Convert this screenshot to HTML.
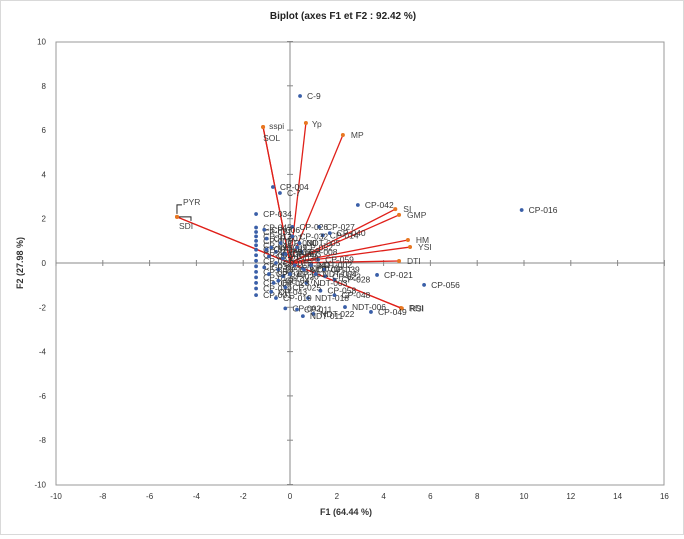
<!DOCTYPE html>
<html><head><meta charset="utf-8"><style>
body{margin:0;background:#fff;font-family:"Liberation Sans",sans-serif}
#wrap{position:relative;width:682px;height:533px;border:1px solid #d9d9d9;background:#fff}
svg text{font-family:"Liberation Sans",sans-serif}
</style></head><body>
<div id="wrap">
<svg id="chart" width="682" height="533" xmlns="http://www.w3.org/2000/svg">
<text x="342" y="18" text-anchor="middle" font-size="10" font-weight="bold" fill="#222">Biplot (axes F1 et F2 : 92.42 %)</text>
<rect x="55" y="41" width="608" height="443" fill="none" stroke="#999" stroke-width="1"/>
<text x="345" y="514" text-anchor="middle" font-size="9" font-weight="bold" fill="#333">F1 (64.44 %)</text>
<text transform="translate(22,262) rotate(-90)" text-anchor="middle" font-size="9" font-weight="bold" fill="#333">F2 (27.98 %)</text>
<g id="axes"></g><g id="vars"></g><g id="obs"></g>
</svg></div>
<script>
const xTicks=[-10,-8,-6,-4,-2,0,2,4,6,8,10,12,14,16];
const yTicks=[-10,-8,-6,-4,-2,0,2,4,6,8,10];
const varNames=["sspi","SOL","Yp","MP","PYR","SDI","SI","GMP","HM","YSI","DTI","RDI","RSI"];
const varX=[-1.15,-1.15,0.68,2.26,-4.83,-4.83,4.5,4.66,5.04,5.13,4.66,4.74,4.78];
const varY=[6.14,6.14,6.32,5.78,2.08,2.08,2.43,2.17,1.04,0.72,0.09,-2.03,-2.05];
const obsNames=["C-9","CP-004","C-7","CP-034","CP-042","CP-016","CP-021","CP-056","CP-049","NDT-006","NDT-018","CP-019","CP-048","NDT-022","NDT-011","CP-027","CP-026","CP-014","CP-040","CP-008","CP-059","CP-070","CP-028","CP-039","CP-002","CP-011","CP-067","CP-022","NDT-003","CP-058",
"CP-045","CP-031","CP-013","CP-005","CP-044","CP-017","CP-061","CP-024","CP-036","CP-050","CP-012","CP-064","CP-029","CP-001",
"CP-006","CP-007","CP-009","CP-010","CP-015","CP-018","CP-020","CP-023","CP-025","CP-030","CP-032","CP-033","CP-035","CP-037","CP-038","CP-041","CP-043","CP-046","CP-047","CP-051","CP-052","CP-053","NDT-001","NDT-002","NDT-004","NDT-005"];
const obsX=[0.43,-0.73,-0.43,-1.45,2.9,9.9,3.72,5.73,3.46,2.35,0.77,-0.6,1.9,1.0,0.55,1.24,0.1,1.4,1.7,0.5,1.2,0.55,1.9,1.45,-0.2,0.3,-0.3,1.5,0.7,1.3,
-1.45,-1.45,-1.45,-1.45,-1.45,-1.45,-1.45,-1.45,-1.45,-1.45,-1.45,-1.45,-1.45,-1.45,
-1.1,-1.0,-0.8,-0.9,-0.6,-0.5,-0.3,-0.7,-0.2,-0.4,0.1,-1.1,-0.9,-0.6,-0.3,0.2,-0.8,-1.0,-0.5,0.0,0.3,-0.2,0.6,0.9,1.1,0.4];
const obsY=[7.54,3.43,3.16,2.21,2.62,2.39,-0.54,-0.99,-2.21,-1.99,-1.58,-1.58,-1.45,-2.3,-2.4,1.63,1.63,1.25,1.35,0.5,0.15,-0.25,-0.75,-0.3,-2.05,-2.1,0.4,-0.6,-0.9,-1.25,
1.6,1.4,1.2,1.0,0.8,0.6,0.35,0.1,-0.15,-0.4,-0.65,-0.9,-1.15,-1.45,
1.5,1.1,0.7,0.3,0.0,-0.3,-0.6,-0.9,-1.1,0.9,1.2,-0.2,-0.5,0.5,0.2,-0.1,-1.3,0.6,-0.8,-0.5,0.7,0.4,-0.3,-0.1,-0.5,0.9];
const sx=v=>289+v*23.4, sy=v=>262-v*22.15;
const NS="http://www.w3.org/2000/svg";
function mk(tag,attrs,parent,txt){const e=document.createElementNS(NS,tag);for(const k in attrs)e.setAttribute(k,attrs[k]);if(txt!==undefined)e.textContent=txt;parent.appendChild(e);return e;}
const ax=document.getElementById('axes');
let e=mk('line',{x1:55,x2:663,y1:sy(0),y2:sy(0),stroke:'#888'},ax);


e=mk('line',{x1:sx(0),x2:sx(0),y1:41,y2:484,stroke:'#888'},ax);


xTicks.forEach(t=>{mk('line',{x1:sx(t),x2:sx(t),y1:sy(0)-3,y2:sy(0)+3,stroke:'#888'},ax);
 e=mk('text',{x:sx(t),y:498,'text-anchor':'middle','font-size':'8',fill:'#333'},ax,t);
 
 });
yTicks.forEach(t=>{mk('line',{x1:sx(0)-3,x2:sx(0)+3,y1:sy(t),y2:sy(t),stroke:'#888'},ax);
 e=mk('text',{x:45,y:sy(t)+3,'text-anchor':'end','font-size':'8',fill:'#333'},ax,t);
 
 });
const vg=document.getElementById('vars');
const og=document.getElementById('obs');
obsNames.forEach((n,i)=>{const x=sx(obsX[i]),y=sy(obsY[i]);
 e=mk('circle',{cx:x,cy:y,r:1.9,fill:'#3a5fa8'},og);
 
 
 e=mk('text',{x:x+7,y:y+3,'font-size':'8.5',fill:'#333'},og,n);
 
 });
varNames.forEach((n,i)=>{const x=sx(varX[i]),y=sy(varY[i]);
 e=mk('line',{x1:sx(0),y1:sy(0),x2:x,y2:y,stroke:'#e0201a','stroke-width':'1.3'},vg);
 
 
 e=mk('circle',{cx:x,cy:y,r:2,fill:'#e87722'},vg);
 
 
 let lx=x+8,ly=y+3;
 if(n==='SOL'){lx=x;ly=y+14;} if(n==='PYR'){lx=x+6;ly=y-12;} if(n==='SDI'){lx=x+2;ly=y+12;}
 if(n==='sspi'){lx=x+6;ly=y+2;} if(n==='Yp'){lx=x+6;ly=y+4;}
 e=mk('text',{x:lx,y:ly,'font-size':'8.5',fill:'#444'},vg,n);
 
 });
mk('path',{d:`M${sx(-4.83)},${sy(2.08)-3} v-9 h5`,stroke:'#222',fill:'none'},vg);
mk('path',{d:`M${sx(-4.83)+2},${sy(2.08)} h12 v4`,stroke:'#222',fill:'none'},vg);
</script>
</body></html>
